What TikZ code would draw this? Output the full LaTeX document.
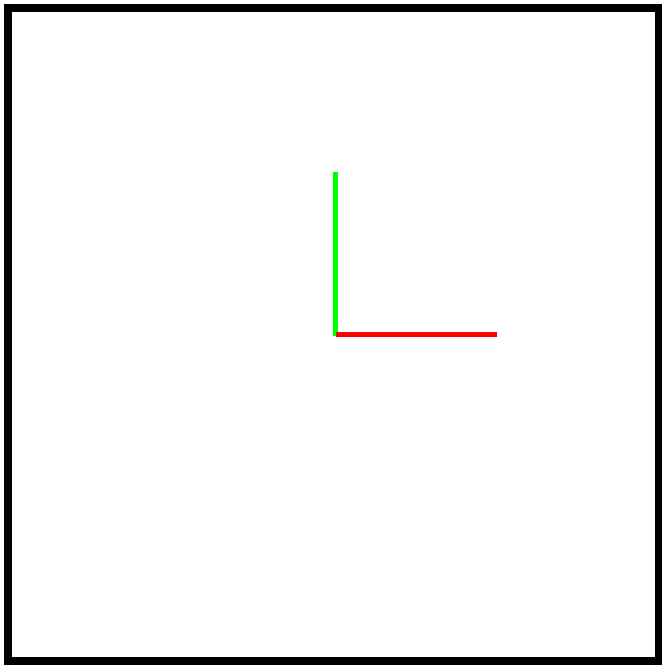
\documentclass[tikz,border=0pt]{standalone}
\begin{document}
\begin{tikzpicture}[x=1pt,y=-1pt,
  frame/.style={draw=black,line width=8pt},
  axisline/.style={line width=5pt}]
\useasboundingbox (0,0) rectangle (662,665);
\fill[white] (0,0) rectangle (662,665);
\draw[frame] (7.5,7.5) rectangle (658.5,660.5);
\coordinate (o) at (335,334.5);
\coordinate (ytip) at (335,172);
\coordinate (xtip) at (497,334.5);
\draw[axisline,green] (335,335.5) -- (ytip);
\draw[axisline,red] (336,334.5) -- (xtip);
\end{tikzpicture}
\end{document}
